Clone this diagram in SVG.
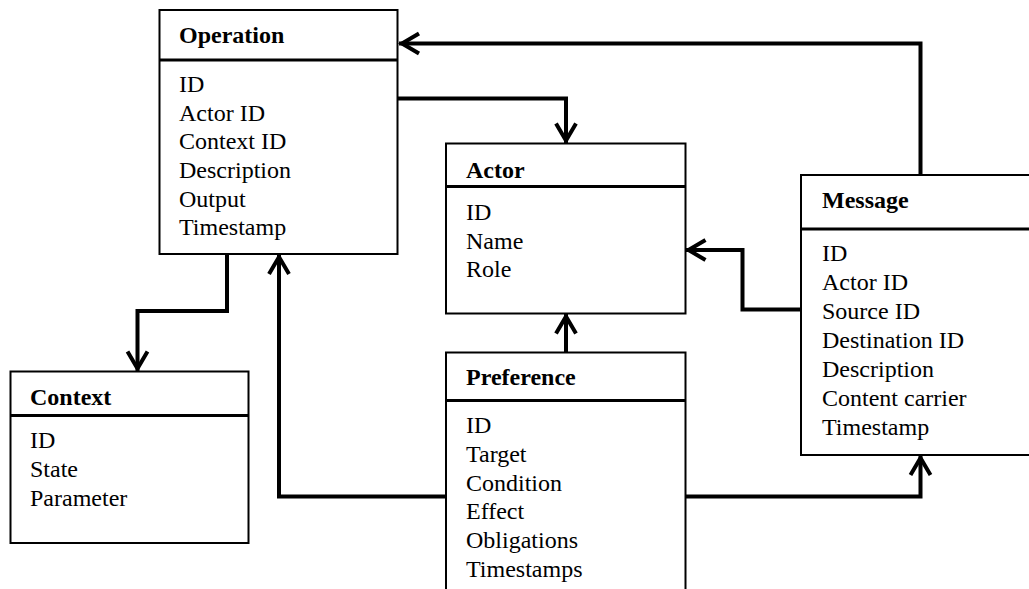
<svg xmlns="http://www.w3.org/2000/svg" width="1029" height="589" viewBox="0 0 1029 589">
  <style>
    .box { fill: #ffffff; stroke: #000000; stroke-width: 2; }
    .div { stroke: #000000; stroke-width: 3; }
    text { font-family: "Liberation Serif", "Times New Roman", serif; font-size: 24px; fill: #000000; }
    .title { font-weight: bold; }
    .conn { fill: none; stroke: #000000; stroke-width: 4; stroke-linejoin: miter; marker-end: url(#arrow); }
  </style>
  <defs>
    <!-- open chevron arrowhead -->
    <marker id="arrow" markerUnits="userSpaceOnUse" viewBox="-24 -14 28 28" markerWidth="28" markerHeight="28" refX="0" refY="0" orient="auto">
      <path d="M-20,-10 L-3,0 L-20,10" fill="none" stroke="#000000" stroke-width="4"/>
    </marker>
  </defs>
  <rect width="1029" height="589" fill="#ffffff"/>

  <!-- connectors -->
  <g id="connectors">
    <path class="conn" d="M920.5,175 V43.5 H399"/>
    <path class="conn" d="M397.5,98.5 H566 V143.5"/>
    <path class="conn" d="M227,254 V311 H137.5 V371.5"/>
    <path class="conn" d="M446,496.5 H279 V254"/>
    <path class="conn" d="M566,352.5 V313.5"/>
    <path class="conn" d="M801,309.5 H742.5 V250 H685.5"/>
    <path class="conn" d="M685.5,496.5 H920.5 V455"/>
  </g>

  <g id="operation">
    <rect class="box" x="159.5" y="10" width="238" height="244"/>
    <line class="div" x1="159.5" y1="60" x2="397.5" y2="60"/>
    <text class="title" x="179" y="43">Operation</text>
    <text x="179" y="92">ID</text>
    <text x="179" y="121">Actor ID</text>
    <text x="179" y="149">Context ID</text>
    <text x="179" y="178">Description</text>
    <text x="179" y="207">Output</text>
    <text x="179" y="235">Timestamp</text>
  </g>

  <g id="actor">
    <rect class="box" x="446" y="143.5" width="239.5" height="170"/>
    <line class="div" x1="446" y1="186.5" x2="685.5" y2="186.5"/>
    <text class="title" x="466" y="178">Actor</text>
    <text x="466" y="220">ID</text>
    <text x="466" y="248.5">Name</text>
    <text x="466" y="277">Role</text>
  </g>

  <g id="message">
    <rect class="box" x="801" y="175" width="250" height="280"/>
    <line class="div" x1="801" y1="229" x2="1051" y2="229"/>
    <text class="title" x="822" y="208">Message</text>
    <text x="822" y="261">ID</text>
    <text x="822" y="290">Actor ID</text>
    <text x="822" y="319">Source ID</text>
    <text x="822" y="348">Destination ID</text>
    <text x="822" y="377">Description</text>
    <text x="822" y="406">Content carrier</text>
    <text x="822" y="435">Timestamp</text>
  </g>

  <g id="context">
    <rect class="box" x="10.5" y="371.5" width="238" height="171.5"/>
    <line class="div" x1="10.5" y1="415.5" x2="248.5" y2="415.5"/>
    <text class="title" x="30" y="405">Context</text>
    <text x="30" y="448">ID</text>
    <text x="30" y="477">State</text>
    <text x="30" y="506">Parameter</text>
  </g>

  <g id="preference">
    <rect class="box" x="446" y="352.5" width="239.5" height="260"/>
    <line class="div" x1="446" y1="400.5" x2="685.5" y2="400.5"/>
    <text class="title" x="466" y="385">Preference</text>
    <text x="466" y="433">ID</text>
    <text x="466" y="462">Target</text>
    <text x="466" y="491">Condition</text>
    <text x="466" y="519">Effect</text>
    <text x="466" y="548">Obligations</text>
    <text x="466" y="577">Timestamps</text>
  </g>
</svg>
